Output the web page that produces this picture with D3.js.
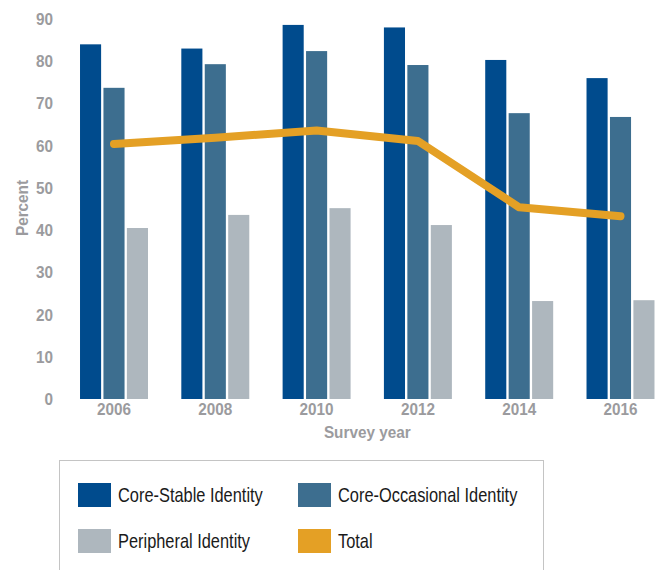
<!DOCTYPE html>
<html>
<head>
<meta charset="utf-8">
<script src="https://cdn.jsdelivr.net/npm/d3@7"></script>
<style>
  html, body { margin: 0; padding: 0; background: #fff; }
  svg { display: block; }
  .lbl { font-family: "Liberation Sans", Arial, sans-serif; font-weight: bold; fill: #9b9b9e; font-size: 17px; }
  .legend text { font-family: "Liberation Sans", Arial, sans-serif; fill: #1a1a1a; font-size: 20px; }
</style>
</head>
<body>
<svg id="chart" width="661" height="570"></svg>
<script>
// Survey years and identity shares (percent)
const years = ["2006", "2008", "2010", "2012", "2014", "2016"];
const seriesNames = ["Core-Stable Identity", "Core-Occasional Identity", "Peripheral Identity"];
const coreStable = [84, 83, 88.6, 88, 80.3, 76];
const coreOccasional = [73.7, 79.3, 82.4, 79.1, 67.7, 66.8];
const peripheral = [40.5, 43.6, 45.2, 41.2, 23.2, 23.4];
const total = [60.4, 61.9, 63.6, 61.1, 45.4, 43.3];
const yTicks = [0, 10, 20, 30, 40, 50, 60, 70, 80, 90];
const colors = ["#004b8d", "#3d6e8f", "#aeb7be"];
const totalColor = "#e4a025";

// Narrow look for labels: horizontal squeeze of a regular sans face
const AXIS_SQUEEZE = 0.9;
const LEGEND_SQUEEZE = 0.82;

const svg = d3.select("#chart");

const x = d3.scaleBand().domain(years).range([63.35, 671.15])
  .paddingInner(0.329).paddingOuter(0.1645);
const xSub = d3.scaleBand().domain(seriesNames).range([0, x.bandwidth()])
  .paddingInner(0.1).paddingOuter(0);
const y = d3.scaleLinear().domain([0, 90]).range([399, 19]);

const seriesValues = [coreStable, coreOccasional, peripheral];

// Grouped bars
const groups = svg.append("g").selectAll("g")
  .data(years).join("g")
  .attr("transform", d => `translate(${x(d)},0)`);

groups.selectAll("rect")
  .data((yr, i) => seriesNames.map((s, k) => ({ s, k, v: seriesValues[k][i] })))
  .join("rect")
  .attr("x", d => xSub(d.s))
  .attr("width", xSub.bandwidth())
  .attr("y", d => y(d.v))
  .attr("height", d => y(0) - y(d.v))
  .attr("fill", d => colors[d.k]);

// Total line
const line = d3.line()
  .x((d, i) => x(years[i]) + x.bandwidth() / 2)
  .y(d => y(d));
svg.append("path")
  .datum(total)
  .attr("d", line)
  .attr("fill", "none")
  .attr("stroke", totalColor)
  .attr("stroke-width", 8)
  .attr("stroke-linecap", "round")
  .attr("stroke-linejoin", "round");

// Y axis (labels only)
const yAxis = svg.append("g")
  .attr("transform", "translate(53,0)")
  .call(d3.axisLeft(y).tickValues(yTicks).tickSize(0).tickPadding(0));
yAxis.select(".domain").remove();
yAxis.selectAll("text").attr("class", "lbl")
  .attr("transform", `scale(${AXIS_SQUEEZE},1)`);

// X axis (labels only)
const xAxis = svg.append("g")
  .attr("transform", "translate(0,399)")
  .call(d3.axisBottom(x).tickSize(0).tickPadding(4));
xAxis.select(".domain").remove();
xAxis.selectAll("text").attr("class", "lbl")
  .attr("transform", `scale(${AXIS_SQUEEZE},1)`);

// Axis titles
const midX = (x(years[0]) + x(years[years.length - 1]) + x.bandwidth()) / 2;
svg.append("text").attr("class", "lbl")
  .attr("transform", `translate(${midX},438) scale(${AXIS_SQUEEZE},1)`)
  .attr("text-anchor", "middle")
  .text("Survey year");

svg.append("text").attr("class", "lbl")
  .attr("transform", `translate(28,208) rotate(-90) scale(${AXIS_SQUEEZE},1)`)
  .attr("text-anchor", "middle")
  .text("Percent");

// Legend
const legend = svg.append("g").attr("class", "legend");
legend.append("rect")
  .attr("x", 59.5).attr("y", 460.5).attr("width", 484).attr("height", 130)
  .attr("fill", "none").attr("stroke", "#c4c4c4").attr("stroke-width", 1);

const legendItems = [
  { name: seriesNames[0], color: colors[0], col: 0, row: 0 },
  { name: seriesNames[1], color: colors[1], col: 1, row: 0 },
  { name: seriesNames[2], color: colors[2], col: 0, row: 1 },
  { name: "Total", color: totalColor, col: 1, row: 1 }
];
const colX = [78, 298];
const rowY = [483, 529];
const li = legend.selectAll("g.item").data(legendItems).join("g")
  .attr("class", "item")
  .attr("transform", d => `translate(${colX[d.col]},${rowY[d.row]})`);
li.append("rect").attr("width", 33).attr("height", 24).attr("fill", d => d.color);
li.append("text")
  .attr("transform", `translate(40,12) scale(${LEGEND_SQUEEZE},1)`)
  .attr("dy", "0.35em")
  .text(d => d.name);
</script>
</body>
</html>
